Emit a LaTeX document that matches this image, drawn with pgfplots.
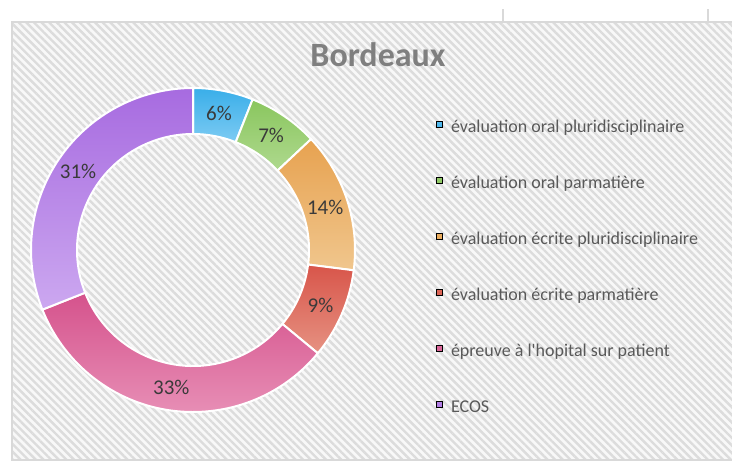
\documentclass[border=0pt]{standalone}
\usepackage{fontspec}
\setmainfont{Carlito}
\usepackage{pgfplots}
\usepackage{pgfplotstable}
\pgfplotsset{compat=1.18}
\usetikzlibrary{patterns.meta}

\definecolor{blueT}{HTML}{39AEE9}\definecolor{blueB}{HTML}{7DCBF3}\definecolor{blueM}{HTML}{4FB8EE}
\definecolor{greenT}{HTML}{8AC65E}\definecolor{greenB}{HTML}{AED98E}\definecolor{greenM}{HTML}{92CB68}
\definecolor{oranT}{HTML}{E7A250}\definecolor{oranB}{HTML}{F0C68D}\definecolor{oranM}{HTML}{EAAC5E}
\definecolor{redT}{HTML}{D8554A}\definecolor{redB}{HTML}{E69282}\definecolor{redM}{HTML}{DD6556}
\definecolor{pinkT}{HTML}{D5528C}\definecolor{pinkB}{HTML}{EA98BC}\definecolor{pinkM}{HTML}{DA6699}
\definecolor{purpT}{HTML}{A76BE0}\definecolor{purpB}{HTML}{CCA8F0}\definecolor{purpM}{HTML}{B27EE5}
\definecolor{bgc}{HTML}{F8F8F8}
\definecolor{hatchc}{HTML}{DCDCDC}
\definecolor{framec}{HTML}{D9D9D9}
\definecolor{titlec}{HTML}{7F7F7F}
\definecolor{labelc}{HTML}{3A3A3A}
\definecolor{legc}{HTML}{595959}

% share of each assessment type (%), clockwise from 12 o'clock
\pgfplotstableread[col sep=semicolon]{
label;value;top;bottom;mid
évaluation oral pluridisciplinaire;6;blueT;blueB;blueM
évaluation oral parmatière;7;greenT;greenB;greenM
évaluation écrite pluridisciplinaire;14;oranT;oranB;oranM
évaluation écrite parmatière;9;redT;redB;redM
épreuve à l\textquotesingle hopital sur patient;33;pinkT;pinkB;pinkM
ECOS;31;purpT;purpB;purpM
}\slices

\tikzset{
  wedge/.style={draw=white, line width=1pt},
  lbl/.style={font=\fontsize{10.5}{12}\selectfont, text=labelc},
}

\begin{document}
\begin{tikzpicture}
  \path[use as bounding box, fill=white] (0,0) rectangle (366pt,231pt);
  % sheet grid ticks above the chart area
  \draw[framec, line width=0.7pt] (251.5pt,220pt) -- (251.5pt,226.5pt) (354pt,220pt) -- (354pt,226.5pt);
  % hatched chart area
  \fill[bgc] (6pt,1pt) rectangle (372pt,220pt);
  \fill[pattern={Lines[angle=-45,distance=2.7pt,line width=1.2pt]}, pattern color=hatchc]
    (6pt,1pt) rectangle (372pt,220pt);
  \draw[framec, line width=0.6pt] (6pt,1pt) rectangle (372pt,220pt);

  \begin{axis}[
    x=1pt, y=1pt, xmin=-85, xmax=85, ymin=-85, ymax=85,
    hide axis, clip=false,
    anchor=center, at={(96.5pt,106pt)},
    title={Bordeaux},
    title style={at={(1.044,1.040)}, anchor=center,
      font=\fontsize{17}{20}\selectfont\bfseries, text=titlec},
    legend image code/.code={\fill[#1] (0pt,0.2pt) rectangle (2.9pt,3.1pt);},
    legend cell align=left,
    legend style={at={(1.2147,0.8882)}, anchor=north west, draw=none, fill=none,
      inner sep=0pt, row sep=19pt, font=\fontsize{9}{11}\selectfont,
      nodes={inner sep=0pt, text height=7pt, text depth=2pt, text=legc},
      /tikz/every odd column/.append style={column sep=4pt}},
  ]
    \gdef\cum{0}
    \pgfplotsinvokeforeach{0,...,5}{
      \pgfplotstablegetelem{#1}{value}\of{\slices}\let\val\pgfplotsretval
      \pgfplotstablegetelem{#1}{top}\of{\slices}\let\ctop\pgfplotsretval
      \pgfplotstablegetelem{#1}{bottom}\of{\slices}\let\cbot\pgfplotsretval
      \pgfplotstablegetelem{#1}{mid}\of{\slices}\let\cmid\pgfplotsretval
      \pgfmathsetmacro\aS{90-3.6*\cum}
      \pgfmathsetmacro\aE{90-3.6*(\cum+\val)}
      \pgfmathsetmacro\aM{(\aS+\aE)/2}
      \pgfmathsetmacro\newcum{\cum+\val}\global\let\cum\newcum
      \edef\doslice{
        \noexpand\path[wedge, top color=\ctop, bottom color=\cbot]
          ([shift={(\aS:81pt)}]axis cs:0,0) arc[start angle=\aS, end angle=\aE, radius=81pt]
          -- ([shift={(\aE:58pt)}]axis cs:0,0) arc[start angle=\aE, end angle=\aS, radius=58pt]
          -- cycle;
        \noexpand\node[lbl] at ([shift={(\aM:69.5pt)}]axis cs:0,0) {\val\noexpand\%};
        \noexpand\addlegendimage{fill=\cmid}
      }
      \doslice
      \pgfplotstablegetelem{#1}{label}\of{\slices}
      \expandafter\addlegendentry\expandafter{\pgfplotsretval}
    }
  \end{axis}
\end{tikzpicture}
\end{document}
